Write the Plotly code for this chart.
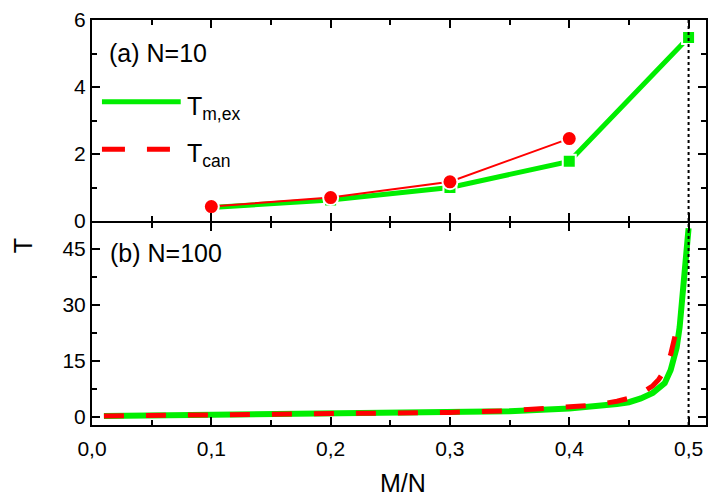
import plotly.graph_objects as go
from plotly.subplots import make_subplots

# ---- data ----
x10_mex = [0.1, 0.2, 0.3, 0.4, 0.5]
T10_mex = [0.40, 0.63, 1.00, 1.78, 5.48]
x10_can = [0.1, 0.2, 0.3, 0.4]
T10_can = [0.43, 0.70, 1.17, 2.46]

x100_mex = [0.01, 0.05, 0.1, 0.15, 0.2, 0.25, 0.3, 0.35, 0.4, 0.42, 0.44, 0.45, 0.46,
            0.47, 0.475, 0.48, 0.485, 0.4875, 0.49, 0.4925, 0.495, 0.4975, 0.5]
T100_mex = [0.20, 0.33, 0.44, 0.56, 0.70, 0.88, 1.10, 1.50, 2.20, 2.70, 3.40, 3.90, 4.90,
            6.40, 7.60, 9.00, 12.5, 15.0, 18.5, 24.0, 32.0, 42.0, 50.5]
x100_can = [0.01, 0.05, 0.1, 0.15, 0.2, 0.25, 0.3, 0.35, 0.4, 0.42, 0.44, 0.45, 0.46,
            0.47, 0.475, 0.48, 0.485, 0.49]
T100_can = [0.22, 0.34, 0.45, 0.58, 0.72, 0.91, 1.18, 1.60, 2.45, 3.10, 4.15, 4.95, 6.20,
            8.30, 10.0, 12.5, 16.7, 23.5]

x_limit = 0.5
x_ticks = [0.0, 0.1, 0.2, 0.3, 0.4, 0.5]

GREEN = "#00ee00"
RED = "#ff0000"
FONT = "Liberation Sans, Arial, sans-serif"

fig = make_subplots(rows=2, cols=1, shared_xaxes=True, vertical_spacing=0)

# top panel
fig.add_trace(go.Scatter(x=x10_mex, y=T10_mex, mode="lines+markers",
                         line=dict(color=GREEN, width=5),
                         marker=dict(symbol="square", size=13, color=GREEN,
                                     line=dict(color="white", width=2)),
                         showlegend=False), row=1, col=1)
fig.add_trace(go.Scatter(x=x10_can, y=T10_can, mode="lines+markers",
                         line=dict(color=RED, width=2),
                         marker=dict(symbol="circle", size=15, color=RED,
                                     line=dict(color="white", width=2)),
                         showlegend=False), row=1, col=1)
# bottom panel
fig.add_trace(go.Scatter(x=x100_mex, y=T100_mex, mode="lines",
                         line=dict(color=GREEN, width=6),
                         showlegend=False), row=2, col=1)
fig.add_trace(go.Scatter(x=x100_can, y=T100_can, mode="lines",
                         line=dict(color=RED, width=5, dash="20px,22px"),
                         showlegend=False), row=2, col=1)

xr = [0, 0.5146]
common_x = dict(range=xr, tickmode="array", tickvals=x_ticks, ticks="inside", ticklen=8,
                tickwidth=1.5, tickcolor="black", showline=True, linewidth=2,
                linecolor="black", mirror="allticks", showgrid=False, zeroline=False,
                minor=dict(dtick=0.05, tick0=0, ticks="inside", ticklen=5,
                           tickwidth=1.5, tickcolor="black", showgrid=False))
fig.update_xaxes(**common_x, showticklabels=False, row=1, col=1)
fig.update_xaxes(**common_x, showticklabels=True, tickformat=".1f", ticklabelstandoff=4,
                 tickfont=dict(family=FONT, size=21, color="black"), row=2, col=1)

common_y = dict(ticks="inside", ticklen=8, tickwidth=1.5, tickcolor="black",
                showline=True, linewidth=2, linecolor="black", mirror="allticks",
                showgrid=False, zeroline=False,
                tickfont=dict(family=FONT, size=21, color="black"))
fig.update_yaxes(**common_y, range=[0, 6], tick0=0, dtick=2,
                 minor=dict(dtick=1, tick0=0, ticks="inside", ticklen=5, tickwidth=1.5,
                            tickcolor="black", showgrid=False),
                 domain=[0.5037, 1], row=1, col=1)
fig.update_yaxes(**common_y, range=[-2.2, 51.9], tick0=0, dtick=15,
                 minor=dict(dtick=7.5, tick0=0, ticks="inside", ticklen=5, tickwidth=1.5,
                            tickcolor="black", showgrid=False),
                 domain=[0, 0.4988], row=2, col=1)

shapes = [
    # dotted limit line across both panels
    dict(type="line", xref="x", yref="paper", x0=x_limit, x1=x_limit, y0=0, y1=1,
         line=dict(color="black", width=2, dash="dot")),
    # legend samples
    dict(type="line", xref="paper", yref="paper", x0=0.0162, x1=0.1445, y0=0.798, y1=0.798,
         line=dict(color=GREEN, width=5)),
    dict(type="line", xref="paper", yref="paper", x0=0.0162, x1=0.1445, y0=0.681, y1=0.681,
         line=dict(color=RED, width=5, dash="23px,22px")),
]

annotations = [
    dict(text="(a) N=10", xref="paper", yref="paper", x=0.024, y=0.9185,
         xanchor="left", yanchor="middle", showarrow=False,
         font=dict(family=FONT, size=25, color="black")),
    dict(text="(b) N=100", xref="paper", yref="paper", x=0.026, y=0.4247,
         xanchor="left", yanchor="middle", showarrow=False,
         font=dict(family=FONT, size=25, color="black")),
    dict(text="T<sub>m,ex</sub>", xref="paper", yref="paper", x=0.152, y=0.828,
         xanchor="left", yanchor="top", showarrow=False,
         font=dict(family=FONT, size=25, color="black")),
    dict(text="T<sub>can</sub>", xref="paper", yref="paper", x=0.152, y=0.710,
         xanchor="left", yanchor="top", showarrow=False,
         font=dict(family=FONT, size=25, color="black")),
    dict(text="T", xref="paper", yref="paper", x=-0.112, y=0.442, textangle=-90,
         xanchor="center", yanchor="middle", showarrow=False,
         font=dict(family=FONT, size=25, color="black")),
    dict(text="M/N", xref="paper", yref="paper", x=0.507, y=-0.143,
         xanchor="center", yanchor="middle", showarrow=False,
         font=dict(family=FONT, size=25, color="black")),
]

fig.update_layout(width=709, height=497, margin=dict(l=92, r=1, t=20, b=72),
                  plot_bgcolor="white", paper_bgcolor="white", separators=", ",
                  shapes=shapes, annotations=annotations, showlegend=False)

fig.write_html("out.html", config={"displayModeBar": False},
               post_script="document.body.style.margin='0';document.body.style.overflow='hidden';")
